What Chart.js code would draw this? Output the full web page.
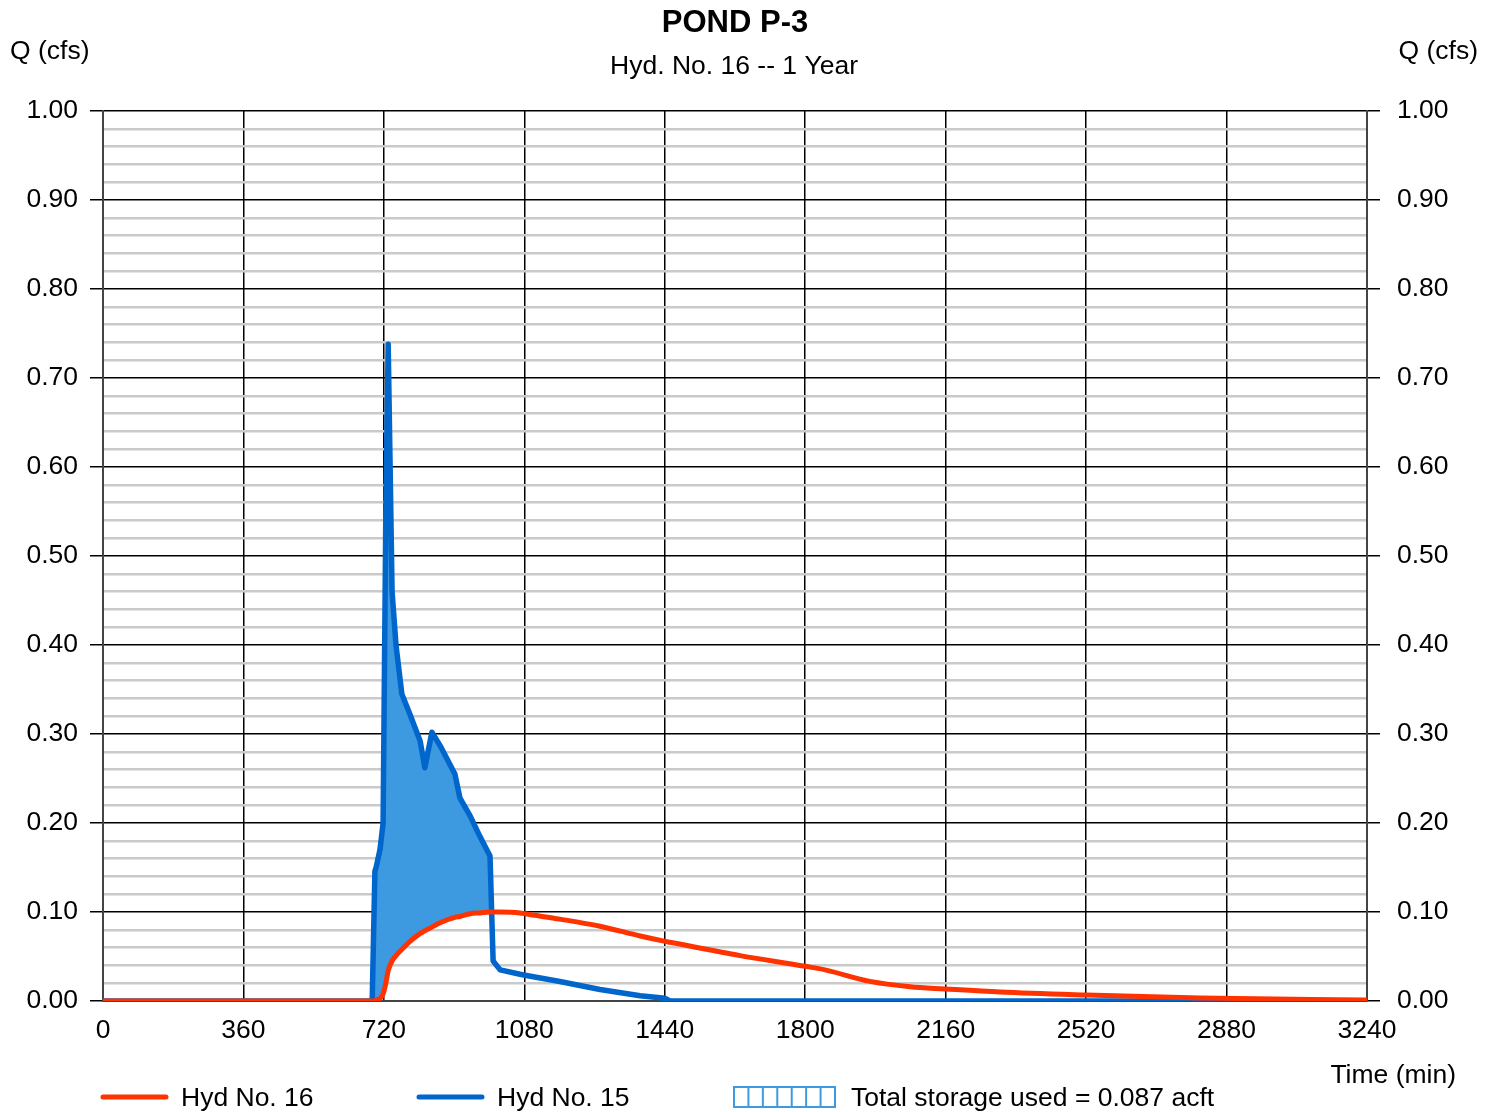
<!DOCTYPE html>
<html>
<head>
<meta charset="utf-8">
<script src="https://cdn.jsdelivr.net/npm/chart.js@4.4.1/dist/chart.umd.min.js"></script>
<style>
  body { margin: 0; background: #fff; }
  #wrap { width: 1494px; height: 1112px; }
</style>
</head>
<body>
<div id="wrap"><canvas id="pond-chart" width="1494" height="1112"></canvas></div>
<script>
const times = [0, 690, 697, 700, 710, 718, 725, 731, 741, 751, 766, 787, 813, 825, 843, 864, 902, 915, 941, 966, 992, 1000, 1018, 1069, 1082, 1171, 1274, 1377, 1441, 1453, 1633, 1800, 1851, 1966, 2069, 2159, 2300, 2520, 2812, 3240];
const hyd16 = [0, 0, 0, 0.001, 0.003, 0.008, 0.02, 0.034, 0.045, 0.051, 0.058, 0.067, 0.076, 0.079, 0.083, 0.088, 0.094, 0.095, 0.098, 0.099, 0.1, 0.1, 0.1, 0.099, 0.098, 0.092, 0.084, 0.073, 0.067, 0.066, 0.051, 0.039, 0.035, 0.022, 0.016, 0.0135, 0.010, 0.0067, 0.0034, 0.001];
const hyd15 = [0, 0, 0.146, 0.15, 0.17, 0.20, 0.55, 0.738, 0.46, 0.40, 0.345, 0.322, 0.292, 0.262, 0.302, 0.287, 0.255, 0.228, 0.208, 0.185, 0.163, 0.045, 0.035, 0.030, 0.029, 0.022, 0.013, 0.006, 0.003, 0, 0, 0, 0, 0, 0, 0, 0, 0, 0, 0];
const xTicks = [0, 360, 720, 1080, 1440, 1800, 2160, 2520, 2880, 3240];

const RED = '#ff3300';
const BLUE = '#0066cc';
const FILL = '#3d9ae0';
const FONT = '"Liberation Sans", Arial, sans-serif';
const FS = 26.5;

const isMajor = v => Math.round(v * 100) % 10 === 0;

// titles, axis captions and legend drawn straight on the canvas
const decorPlugin = {
    id: 'decor',
    afterDraw(chart) {
        const ctx = chart.ctx;
        ctx.save();
        ctx.fillStyle = '#000';
        ctx.textBaseline = 'middle';

        ctx.textAlign = 'center';
        ctx.font = 'bold 31px ' + FONT;
        ctx.fillText('POND P-3', 735, 23);
        ctx.font = FS + 'px ' + FONT;
        ctx.fillText('Hyd. No. 16 -- 1 Year', 734, 67);

        ctx.textAlign = 'left';
        ctx.fillText('Q (cfs)', 10, 52);
        ctx.textAlign = 'right';
        ctx.fillText('Q (cfs)', 1478, 52);
        ctx.fillText('Time (min)', 1456, 1076);

        // legend
        const ly = 1097;
        ctx.lineCap = 'round';
        ctx.lineWidth = 5;
        ctx.strokeStyle = RED;
        ctx.beginPath(); ctx.moveTo(103, ly); ctx.lineTo(166, ly); ctx.stroke();
        ctx.strokeStyle = BLUE;
        ctx.beginPath(); ctx.moveTo(419, ly); ctx.lineTo(482, ly); ctx.stroke();

        ctx.lineCap = 'butt';
        ctx.lineWidth = 2;
        ctx.strokeStyle = FILL;
        ctx.strokeRect(734, 1087, 101, 20);
        for (let i = 1; i < 7; i++) {
            const x = 734 + i * 101 / 7;
            ctx.beginPath(); ctx.moveTo(x, 1087); ctx.lineTo(x, 1107); ctx.stroke();
        }

        ctx.fillStyle = '#000';
        ctx.textAlign = 'left';
        ctx.fillText('Hyd No. 16', 181, ly + 2);
        ctx.fillText('Hyd No. 15', 497, ly + 2);
        ctx.fillText('Total storage used = 0.087 acft', 851, ly + 2);
        ctx.restore();
    }
};

const yGrid = {
    color: ctx => isMajor(ctx.tick.value) ? '#000' : '#cacaca',
    lineWidth: ctx => isMajor(ctx.tick.value) ? 1.5 : 2.5,
    tickColor: ctx => isMajor(ctx.tick.value) ? '#000' : 'rgba(0,0,0,0)',
    tickLength: 13
};

const yTicks = {
    stepSize: 0.02,
    autoSkip: false,
    padding: 12,
    color: '#000',
    font: { family: FONT, size: FS },
    callback: v => isMajor(v) ? v.toFixed(2) : ''
};

new Chart(document.getElementById('pond-chart'), {
    type: 'line',
    data: {
        labels: times,
        datasets: [
            {
                label: 'Hyd No. 16',
                data: times.map((t, i) => ({ x: t, y: hyd16[i] })),
                borderColor: RED,
                borderWidth: 5,
                borderCapStyle: 'round',
                pointRadius: 0,
                cubicInterpolationMode: 'monotone',
                fill: false
            },
            {
                label: 'Hyd No. 15',
                data: times.map((t, i) => ({ x: t, y: hyd15[i] })),
                borderColor: BLUE,
                borderWidth: 5.5,
                borderJoinStyle: 'round',
                borderCapStyle: 'round',
                pointRadius: 0,
                tension: 0,
                fill: { target: 0, above: FILL, below: 'rgba(0,0,0,0)' }
            }
        ]
    },
    options: {
        responsive: false,
        animation: false,
        devicePixelRatio: 1,
        layout: { padding: { top: 111, left: 0, right: 0, bottom: 0 } },
        plugins: {
            legend: { display: false },
            tooltip: { enabled: false }
        },
        scales: {
            x: {
                type: 'linear',
                min: 0,
                max: 3240,
                afterBuildTicks: scale => { scale.ticks = xTicks.map(v => ({ value: v })); },
                afterFit: scale => { scale.height = 111; },
                grid: { color: '#000', lineWidth: 1.5, drawTicks: false },
                border: { color: '#444', width: 2 },
                ticks: {
                    padding: 14,
                    color: '#000',
                    maxRotation: 0,
                    font: { family: FONT, size: FS },
                    callback: v => String(v)
                }
            },
            y: {
                position: 'left',
                min: 0,
                max: 1,
                afterFit: scale => { scale.width = 103; },
                grid: yGrid,
                border: { color: '#444', width: 2 },
                ticks: yTicks
            },
            y2: {
                position: 'right',
                min: 0,
                max: 1,
                afterFit: scale => { scale.width = 127; },
                grid: Object.assign({}, yGrid, { drawOnChartArea: false }),
                border: { color: '#444', width: 2 },
                ticks: Object.assign({}, yTicks, { padding: 17 })
            }
        }
    },
    plugins: [decorPlugin]
});
</script>
</body>
</html>
